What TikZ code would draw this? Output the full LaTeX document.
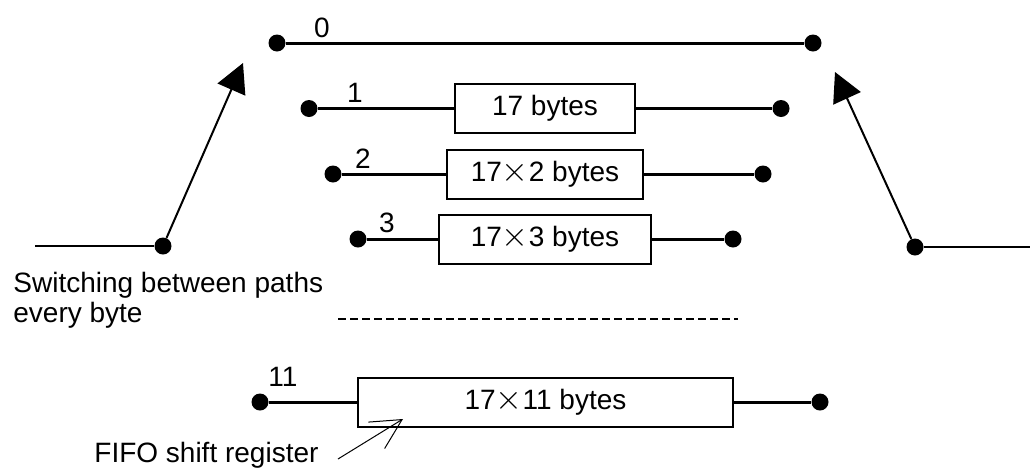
\documentclass[tikz,border=0pt]{standalone}
\usepackage{fontspec}
\setmainfont{Liberation Sans}
\usetikzlibrary{arrows.meta,positioning}
\tikzset{
    raw box/.style={rectangle, draw, line width=1pt, minimum height=24.5pt, inner sep=0pt, align=center},
    fifo box/.style={raw box, minimum width=#1},
    dot/.style={circle, fill=black, inner sep=0pt, minimum size=8.5pt},
    path line/.style={line width=1.5pt},
    switch line/.style={line width=1pt},
    path label/.style={inner sep=0pt}
}
\newcommand{\tms}{{\fontsize{17}{17}\selectfont$\times$}}

\begin{document}
\begin{tikzpicture}[
	x=0.5pt, y=-0.5pt,
	every node/.style={font=\fontsize{14}{15}\selectfont},
	>={Triangle[length=14.5pt,width=15pt]}]
		\useasboundingbox (0,0) rectangle (1030,467);
		% paths
		\node[dot] (in0) at (277,43) {};
		\node[dot] (out0) at (813,43) {};
		\node[dot] (in1) at (309,108.5) {};
		\node[dot] (out1) at (781,108.5) {};
		\node[dot] (in2) at (333,174) {};
		\node[dot] (out2) at (763,174) {};
		\node[dot] (in3) at (358,239) {};
		\node[dot] (out3) at (733,239) {};
		\node[dot] (in11) at (260,402) {};
		\node[dot] (out11) at (820,402) {};
		\node[fifo box=90pt] (box1) at (545,108.5) {17 bytes};
		\node[fifo box=98pt] (box2) at (545,174) {17\tms2 bytes};
		\node[fifo box=106pt] (box3) at (545,239) {17\tms3 bytes};
		\node[fifo box=187.5pt] (box11) at (545.5,402) {17\tms11 bytes};
		\node[path label] (lab0) at (322,28) {0};
		\node[path label] (lab1) at (355,93) {1};
		\node[path label] (lab2) at (363,159) {2};
		\node[path label] (lab3) at (387,223) {3};
		\node[path label] (lab11) at (283,377) {11};
		\draw[path line] (in0) -- (out0);
		\draw[path line] (in1) -- (box1) -- (out1);
		\draw[path line] (in2) -- (box2) -- (out2);
		\draw[path line] (in3) -- (box3) -- (out3);
		\draw[path line] (in11) -- (box11) -- (out11);
		\coordinate (dashl) at (338,319);
		\coordinate (dashr) at (738,319);
		\draw[line width=1.2pt, dash pattern=on 4pt off 2pt] (dashl) -- (dashr);
		% switches
		\node[dot] (swl) at (163,246) {};
		\node[dot] (swr) at (915,247) {};
		\coordinate (inl) at (35,246);
		\coordinate (outr) at (1030,247);
		\coordinate (tipl) at (243,63);
		\coordinate (tipr) at (835,72);
		\draw[switch line] (inl) -- (swl);
		\draw[switch line] (swr) -- (outr);
		\draw[switch line,->] (swl) -- (tipl);
		\draw[switch line,->] (swr) -- (tipr);
		\node[anchor=north west, inner sep=0pt, align=left] (switching) at (13,271.5) {Switching between paths\\every byte};
		% FIFO label
		\node[anchor=base west, inner sep=0pt] (fifo) at (94,462) {FIFO shift register};
		\coordinate (fifotail) at (338,459);
		\coordinate (fifotip) at (403,419);
		\draw[line width=0.5pt, -{Straight Barb[length=15pt,width=15.5pt]}] (fifotail) -- (fifotip);
\end{tikzpicture}
\end{document}
